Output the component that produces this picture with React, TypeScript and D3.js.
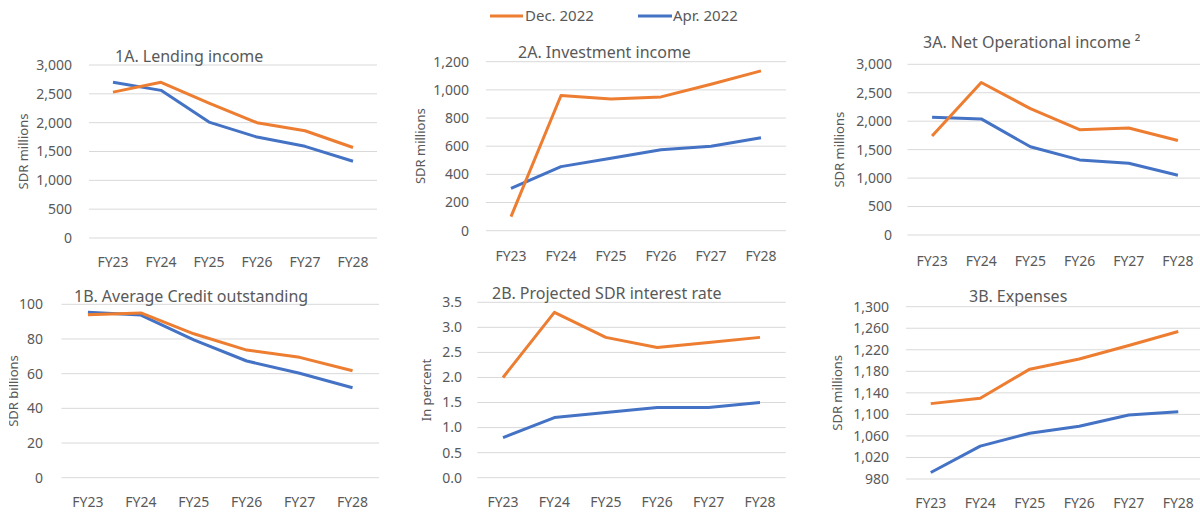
import React from 'react';
import * as d3 from 'd3';

// categories and series
const years = ['FY23', 'FY24', 'FY25', 'FY26', 'FY27', 'FY28'];

const lendingDec = [2530, 2700, 2340, 2000, 1860, 1570];
const lendingApr = [2700, 2560, 2010, 1750, 1590, 1330];

const investDec = [100, 960, 935, 950, 1040, 1135];
const investApr = [300, 455, 515, 575, 600, 660];

const netOpDec = [1740, 2680, 2220, 1850, 1880, 1660];
const netOpApr = [2070, 2040, 1550, 1320, 1260, 1050];

const creditDec = [94, 95, 83, 73.6, 69.4, 61.7];
const creditApr = [95.4, 93.8, 79.5, 67.3, 60.2, 51.9];

const rateDec = [2.0, 3.3, 2.8, 2.6, 2.7, 2.8];
const rateApr = [0.8, 1.2, 1.3, 1.4, 1.4, 1.5];

const expDec = [1120, 1130, 1184, 1203, 1228, 1254];
const expApr = [992, 1041, 1065, 1078, 1099, 1105];

const ticks3000 = [0, 500, 1000, 1500, 2000, 2500, 3000];
const ticks1200 = [0, 200, 400, 600, 800, 1000, 1200];
const ticks100 = [0, 20, 40, 60, 80, 100];
const ticksRate = [0, 0.5, 1.0, 1.5, 2.0, 2.5, 3.0, 3.5];
const ticksExp = [980, 1020, 1060, 1100, 1140, 1180, 1220, 1260, 1300];

const ORANGE = '#ED7D31';
const BLUE = '#4472C4';
const TEXT = '#595959';
const GRID = '#d9d9d9';
const FONT = '"Segoe UI", "Noto Sans", "Open Sans", sans-serif';

type PanelProps = {
  title: string;
  titleX: number;
  titleY: number;
  axisTitle: string;
  axisTitleX: number;
  axisClip?: string;
  x0: number;
  x1: number;
  yTop: number;
  yBot: number;
  labelX: number;
  xLabelY: number;
  ticks: number[];
  fmt: (v: number) => string;
  dec: number[];
  apr: number[];
};

function Panel(p: PanelProps) {
  const x = d3.scaleBand().domain(years).range([p.x0, p.x1]);
  const y = d3.scaleLinear()
    .domain([p.ticks[0], p.ticks[p.ticks.length - 1]])
    .range([p.yBot, p.yTop]);
  const line = d3.line<number>()
    .x((_, i) => x(years[i])! + x.bandwidth() / 2)
    .y(d => y(d));
  const midY = (p.yTop + p.yBot) / 2;

  return (
    <g>
      {p.ticks.map(t => (
        <g key={t}>
          <line x1={p.x0} x2={p.x1} y1={y(t)} y2={y(t)} stroke={GRID} strokeWidth={1} />
          <text x={p.labelX} y={y(t)} dy="0.35em" textAnchor="end" fontSize={14} fill={TEXT}>
            {p.fmt(t)}
          </text>
        </g>
      ))}
      {years.map(c => (
        <text key={c} x={x(c)! + x.bandwidth() / 2} y={p.xLabelY} dy="0.35em"
              textAnchor="middle" fontSize={14} fill={TEXT}>{c}</text>
      ))}
      <g clipPath={p.axisClip ? `url(#${p.axisClip})` : undefined}>
        <text transform={`translate(${p.axisTitleX},${midY}) rotate(-90)`} dy="0.35em"
              textAnchor="middle" fontSize={13} fill={TEXT}>{p.axisTitle}</text>
      </g>
      <path d={line(p.apr)!} fill="none" stroke={BLUE} strokeWidth={3} strokeLinejoin="round" />
      <path d={line(p.dec)!} fill="none" stroke={ORANGE} strokeWidth={3} strokeLinejoin="round" />
      <text x={p.titleX} y={p.titleY} fontSize={16} fill={TEXT}>{p.title}</text>
    </g>
  );
}

const f0 = d3.format(',');
const f1 = d3.format('.1f');

export default function App() {
  return (
    <div>
      <style>{`body{margin:0;background:#fff}`}</style>
      <svg width={1200} height={514} style={{ display: 'block', fontFamily: FONT }}>
        <defs>
          <clipPath id="clip1b">
            <rect x={9} y={260} width={60} height={254} />
          </clipPath>
        </defs>
        <rect width={1200} height={514} fill="#fff" />
        {/* legend */}
        <line x1={490} x2={523} y1={16} y2={16} stroke={ORANGE} strokeWidth={3} />
        <text x={525} y={16} dy="0.35em" fontSize={15} fill={TEXT}>Dec. 2022</text>
        <line x1={638} x2={672} y1={16} y2={16} stroke={BLUE} strokeWidth={3} />
        <text x={673} y={16} dy="0.35em" fontSize={15} fill={TEXT}>Apr. 2022</text>

        <Panel title="1A. Lending income" titleX={115} titleY={62} axisTitle="SDR millions" axisTitleX={23}
               x0={89} x1={377} yTop={65} yBot={238} labelX={72} xLabelY={262}
               ticks={ticks3000} fmt={f0} dec={lendingDec} apr={lendingApr} />
        <Panel title="2A. Investment income" titleX={518} titleY={58} axisTitle="SDR millions" axisTitleX={420}
               x0={486} x1={786} yTop={61.7} yBot={230.7} labelX={469} xLabelY={256}
               ticks={ticks1200} fmt={f0} dec={investDec} apr={investApr} />
        <Panel title="3A. Net Operational income ²" titleX={923} titleY={48} axisTitle="SDR millions" axisTitleX={839}
               x0={907.5} x1={1202.5} yTop={64.3} yBot={235} labelX={892} xLabelY={261}
               ticks={ticks3000} fmt={f0} dec={netOpDec} apr={netOpApr} />
        <Panel title="1B. Average Credit outstanding" titleX={74} titleY={302} axisTitle="SDR billions" axisTitleX={13}
               axisClip="clip1b"
               x0={61.5} x1={379} yTop={304.3} yBot={477.7} labelX={43} xLabelY={502}
               ticks={ticks100} fmt={f0} dec={creditDec} apr={creditApr} />
        <Panel title="2B. Projected SDR interest rate" titleX={492} titleY={299} axisTitle="In percent" axisTitleX={426}
               x0={477.3} x1={785.7} yTop={302.3} yBot={477.7} labelX={462} xLabelY={502}
               ticks={ticksRate} fmt={f1} dec={rateDec} apr={rateApr} />
        <Panel title="3B. Expenses" titleX={969} titleY={302} axisTitle="SDR millions" axisTitleX={837}
               x0={906} x1={1203} yTop={306.7} yBot={479} labelX={889} xLabelY={503}
               ticks={ticksExp} fmt={f0} dec={expDec} apr={expApr} />
      </svg>
    </div>
  );
}
